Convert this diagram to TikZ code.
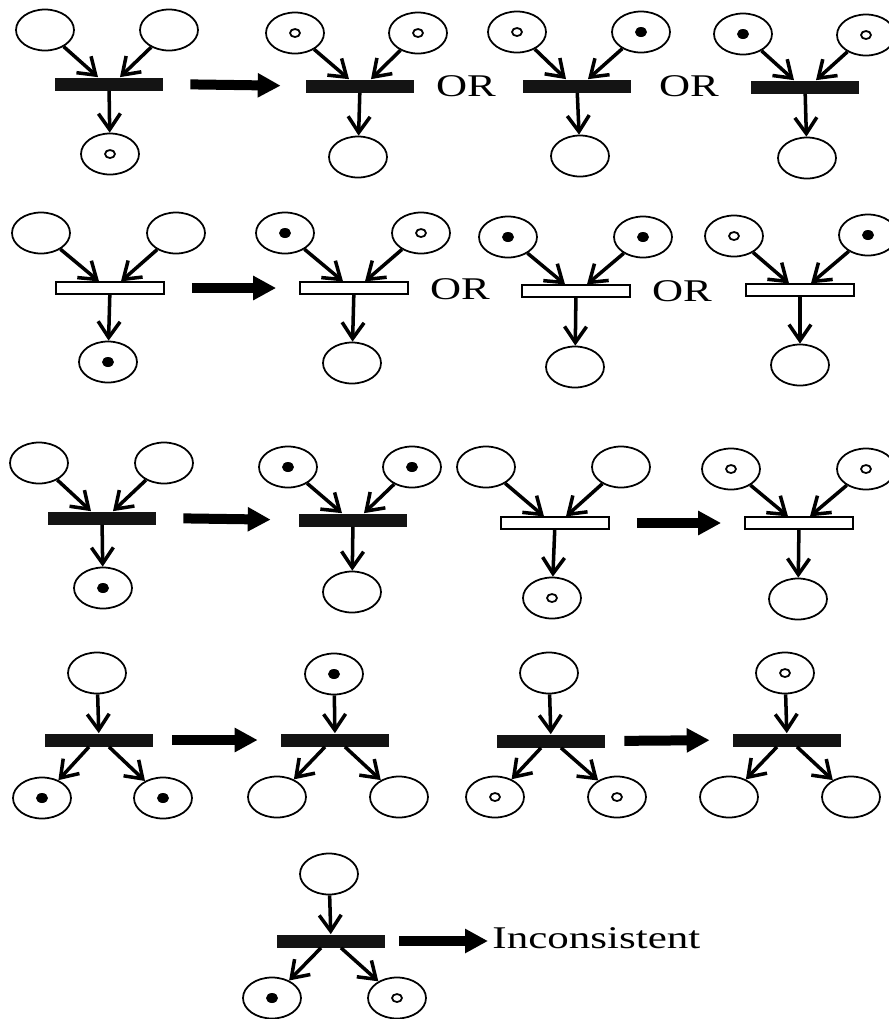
\documentclass[tikz,border=0pt]{standalone}
\usepackage{fontspec}
\setmainfont{Liberation Serif}
\usetikzlibrary{arrows.meta,shapes.geometric}

\tikzset{
  place/.style={ellipse, draw, line width=1pt, minimum width=1.16cm, minimum height=0.82cm, inner sep=0pt},
  blacktok/.style={place, path picture={\fill (path picture bounding box.center) ellipse [x radius=0.12cm, y radius=0.1cm];}},
  whitetok/.style={place, path picture={\draw[line width=1pt] (path picture bounding box.center) ellipse [x radius=0.1cm, y radius=0.08cm];}},
  fired/.style={rectangle, fill=black!92, minimum width=2.16cm, minimum height=0.26cm, inner sep=0pt},
  idle/.style={rectangle, draw, fill=white, line width=1pt, minimum width=2.16cm, minimum height=0.23cm, inner sep=0pt},
  arc/.style={line width=2pt, -{Straight Barb[length=0.32cm, width=0.44cm]}},
  bigarr/.style={line width=0.2cm, -{Triangle[length=0.46cm, width=0.46cm]}, shorten <=0.54cm, shorten >=0.5cm},
  ortext/.style={inner sep=0pt, font=\fontsize{18}{20}\selectfont, xscale=1.36}
}

\begin{document}
\begin{tikzpicture}[x=0.02cm, y=-0.02cm]
\useasboundingbox (0,0) rectangle (889,1019);

% row 1
\node[place] (pA1) at (45,30) {};
\node[place] (pA2) at (169,30) {};
\node[fired] (tA) at (109,84) {};
\node[whitetok] (pA3) at (110,154) {};
\draw[arc] (pA1) -- ([xshift=-0.22cm]tA.north);
\draw[arc] (pA2) -- ([xshift=0.22cm]tA.north);
\draw[arc] (tA) -- (pA3);

\node[whitetok] (pB1) at (295,33) {};
\node[whitetok] (pB2) at (418,33) {};
\node[fired] (tB) at (360,86) {};
\node[place] (pB3) at (358,157) {};
\draw[arc] (pB1) -- ([xshift=-0.22cm]tB.north);
\draw[arc] (pB2) -- ([xshift=0.22cm]tB.north);
\draw[arc] (tB) -- (pB3);

\node[whitetok] (pC1) at (517,32) {};
\node[blacktok] (pC2) at (641,32) {};
\node[fired] (tC) at (577,86) {};
\node[place] (pC3) at (580,156) {};
\draw[arc] (pC1) -- ([xshift=-0.22cm]tC.north);
\draw[arc] (pC2) -- ([xshift=0.22cm]tC.north);
\draw[arc] (tC) -- (pC3);

\node[blacktok] (pD1) at (743,34) {};
\node[whitetok] (pD2) at (866,35) {};
\node[fired] (tD) at (805,87) {};
\node[place] (pD3) at (807,158) {};
\draw[arc] (pD1) -- ([xshift=-0.22cm]tD.north);
\draw[arc] (pD2) -- ([xshift=0.22cm]tD.north);
\draw[arc] (tD) -- (pD3);

\draw[bigarr] (tA.east) -- (tB.west);
\node[ortext] (or1) at (466,86) {OR};
\node[ortext] (or2) at (689,86) {OR};

% row 2
\node[place] (pE1) at (41,233) {};
\node[place] (pE2) at (176,233) {};
\node[idle] (tE) at (110,288) {};
\node[blacktok] (pE3) at (108,362) {};
\draw[arc] (pE1) -- ([xshift=-0.22cm]tE.north);
\draw[arc] (pE2) -- ([xshift=0.22cm]tE.north);
\draw[arc] (tE) -- (pE3);

\node[blacktok] (pF1) at (285,233) {};
\node[whitetok] (pF2) at (421,233) {};
\node[idle] (tF) at (354,288) {};
\node[place] (pF3) at (352,363) {};
\draw[arc] (pF1) -- ([xshift=-0.22cm]tF.north);
\draw[arc] (pF2) -- ([xshift=0.22cm]tF.north);
\draw[arc] (tF) -- (pF3);

\node[blacktok] (pG1) at (508,237) {};
\node[blacktok] (pG2) at (643,237) {};
\node[idle] (tG) at (576,291) {};
\node[place] (pG3) at (575,367) {};
\draw[arc] (pG1) -- ([xshift=-0.22cm]tG.north);
\draw[arc] (pG2) -- ([xshift=0.22cm]tG.north);
\draw[arc] (tG) -- (pG3);

\node[whitetok] (pH1) at (734,236) {};
\node[blacktok] (pH2) at (868,235) {};
\node[idle] (tH) at (800,290) {};
\node[place] (pH3) at (800,365) {};
\draw[arc] (pH1) -- ([xshift=-0.22cm]tH.north);
\draw[arc] (pH2) -- ([xshift=0.22cm]tH.north);
\draw[arc] (tH) -- (pH3);

\draw[bigarr, shorten >=0.46cm] (tE.east) -- (tF.west);
\node[ortext] (or3) at (460,289) {OR};
\node[ortext] (or4) at (682,291) {OR};

% row 3
\node[place] (pI1) at (39,463) {};
\node[place] (pI2) at (164,463) {};
\node[fired] (tI) at (102,518) {};
\node[blacktok] (pI3) at (103,588) {};
\draw[arc] (pI1) -- ([xshift=-0.22cm]tI.north);
\draw[arc] (pI2) -- ([xshift=0.22cm]tI.north);
\draw[arc] (tI) -- (pI3);

\node[blacktok] (pJ1) at (288,467) {};
\node[blacktok] (pJ2) at (412,467) {};
\node[fired] (tJ) at (353,520) {};
\node[place] (pJ3) at (352,592) {};
\draw[arc] (pJ1) -- ([xshift=-0.22cm]tJ.north);
\draw[arc] (pJ2) -- ([xshift=0.22cm]tJ.north);
\draw[arc] (tJ) -- (pJ3);

\node[place] (pK1) at (486,467) {};
\node[place] (pK2) at (621,467) {};
\node[idle] (tK) at (555,523) {};
\node[whitetok] (pK3) at (552,598) {};
\draw[arc] (pK1) -- ([xshift=-0.22cm]tK.north);
\draw[arc] (pK2) -- ([xshift=0.22cm]tK.north);
\draw[arc] (tK) -- (pK3);

\node[whitetok] (pL1) at (731,469) {};
\node[whitetok] (pL2) at (866,469) {};
\node[idle] (tL) at (799,523) {};
\node[place] (pL3) at (798,599) {};
\draw[arc] (pL1) -- ([xshift=-0.22cm]tL.north);
\draw[arc] (pL2) -- ([xshift=0.22cm]tL.north);
\draw[arc] (tL) -- (pL3);

\draw[bigarr, shorten >=0.56cm] (tI.east) -- (tJ.west);
\draw[bigarr, shorten >=0.46cm] (tK.east) -- (tL.west);

% row 4
\node[place] (pM1) at (97,673) {};
\node[fired] (tM) at (99,740) {};
\node[blacktok] (pM2) at (42,798) {};
\node[blacktok] (pM3) at (163,798) {};
\draw[arc] (pM1) -- (tM);
\draw[arc] ([xshift=-0.2cm]tM.south) -- (pM2);
\draw[arc] ([xshift=0.2cm]tM.south) -- (pM3);

\node[blacktok] (pN1) at (334,674) {};
\node[fired] (tN) at (335,740) {};
\node[place] (pN2) at (277,797) {};
\node[place] (pN3) at (399,797) {};
\draw[arc] (pN1) -- (tN);
\draw[arc] ([xshift=-0.2cm]tN.south) -- (pN2);
\draw[arc] ([xshift=0.2cm]tN.south) -- (pN3);

\node[place] (pO1) at (549,673) {};
\node[fired] (tO) at (551,741) {};
\node[whitetok] (pO2) at (495,797) {};
\node[whitetok] (pO3) at (617,797) {};
\draw[arc] (pO1) -- (tO);
\draw[arc] ([xshift=-0.2cm]tO.south) -- (pO2);
\draw[arc] ([xshift=0.2cm]tO.south) -- (pO3);

\node[whitetok] (pP1) at (785,673) {};
\node[fired] (tP) at (787,740) {};
\node[place] (pP2) at (729,797) {};
\node[place] (pP3) at (851,797) {};
\draw[arc] (pP1) -- (tP);
\draw[arc] ([xshift=-0.2cm]tP.south) -- (pP2);
\draw[arc] ([xshift=0.2cm]tP.south) -- (pP3);

\draw[bigarr, shorten <=0.38cm, shorten >=0.46cm] (tM.east) -- (tN.west);
\draw[bigarr, shorten <=0.38cm, shorten >=0.46cm] (tO.east) -- (tP.west);

% row 5
\node[place] (pQ1) at (329,874) {};
\node[fired] (tQ) at (331,941) {};
\node[blacktok] (pQ2) at (272,998) {};
\node[whitetok] (pQ3) at (397,998) {};
\draw[arc] (pQ1) -- (tQ);
\draw[arc] ([xshift=-0.2cm]tQ.south) -- (pQ2);
\draw[arc] ([xshift=0.2cm]tQ.south) -- (pQ3);

\node[ortext, anchor=base west] (incons) at (492,948) {Inconsistent};
\draw[bigarr, shorten <=0.28cm, shorten >=0.08cm] (tQ.east) -- (tQ.east -| incons.west);
\end{tikzpicture}
\end{document}
